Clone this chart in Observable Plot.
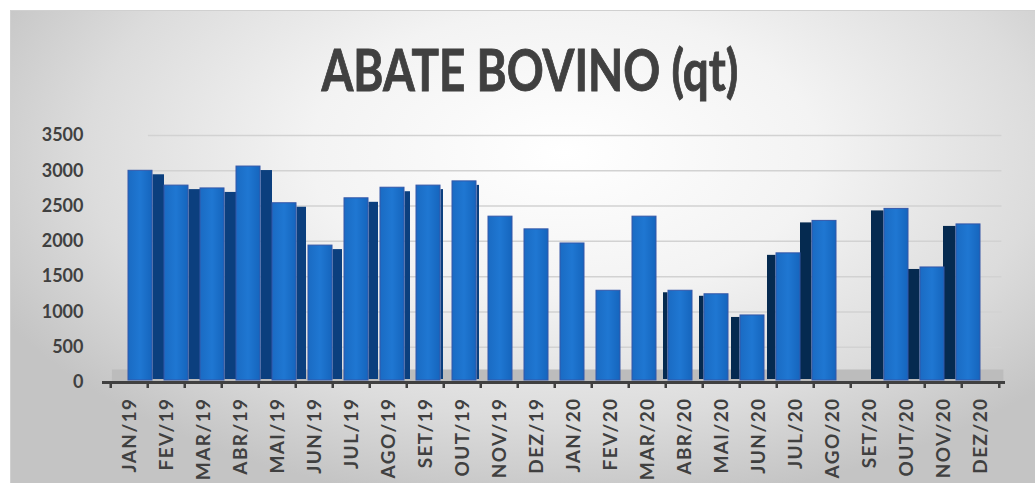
<!DOCTYPE html>
<html>
<head>
<meta charset="utf-8">
<script src="https://cdn.jsdelivr.net/npm/d3@7"></script>
<script src="https://cdn.jsdelivr.net/npm/@observablehq/plot@0.6"></script>
<style>
  html, body { margin: 0; padding: 0; background: #ffffff; }
  body { width: 1035px; height: 483px; position: relative; overflow: hidden; font-family: Lato, "Open Sans", sans-serif; }
  #panel { position: absolute; left: 10px; top: 10px; width: 1025px; height: 473px;
    background: radial-gradient(ellipse 62% 75% at 54% 30%, #ffffff 0%, #f3f3f3 40%, #dcdcdc 75%, #c4c4c4 100%);
    border-top: 1px solid #d0d0d0; border-left: 1px solid #d0d0d0; }
  #title { position: absolute; left: 0; top: 40px; width: 1060px; text-align: center;
    font-family: Lato, sans-serif; font-weight: 700; font-size: 58px; line-height: 1; color: #404040;
    -webkit-text-stroke: 0.9px #404040; }
  #title span { display: inline-block; transform: scaleX(0.79); transform-origin: center; white-space: nowrap; }
  .layer { position: absolute; left: 0; top: 0; }
  .layer svg g[aria-label="x-axis tick label"] text { letter-spacing: 1.4px; }
</style>
</head>
<body>
<div id="panel"></div>
<div id="title"><span>ABATE BOVINO (qt)</span></div>
<div id="bars" class="layer"></div>
<div id="axes" class="layer"></div>
<script>
// ---- data ----
const months = ["JAN/19","FEV/19","MAR/19","ABR/19","MAI/19","JUN/19","JUL/19","AGO/19","SET/19","OUT/19","NOV/19","DEZ/19",
                "JAN/20","FEV/20","MAR/20","ABR/20","MAI/20","JUN/20","JUL/20","AGO/20","SET/20","OUT/20","NOV/20","DEZ/20"];
const abate = [3000, 2790, 2750, 3060, 2540, 1940, 2610, 2760, 2790, 2850, 2350, 2170,
               1970, 1300, 2350, 1300, 1250, 950, 1830, 2290, null, 2460, 1630, 2240];
const yTicks = [0, 500, 1000, 1500, 2000, 2500, 3000, 3500];

const data = months.map((m, i) => ({month: m, value: abate[i], i}));
const valid = data.filter(d => d.value != null);

// ---- pseudo-3D styling (perspective: front faces are a bit compressed) ----
const W = 1035, H = 483, MT = 135, MB = 101;
const barStep = 36.23, barW = 24.5;
const barLeft = 138 - barStep / 2, barRight = W - (138 + 23 * barStep + barStep / 2);
const sideGroups = [
  {from: 0, to: 3, w: 12, side: "right", fill: "#0b3f7e"},
  {from: 4, to: 6, w: 10, side: "right", fill: "#0b3f7e"},
  {from: 7, to: 7, w: 6, side: "right", fill: "#0b3f7e"},
  {from: 8, to: 9, w: 3, side: "right", fill: "#0b3f7e"},
  {from: 15, to: 16, w: 5, side: "left", fill: "#052a50"},
  {from: 17, to: 18, w: 9, side: "left", fill: "#052a50"},
  {from: 19, to: 19, w: 12, side: "left", fill: "#052a50"},
  {from: 20, to: 23, w: 13, side: "left", fill: "#052a50"}
];
const sideMarks = sideGroups.map(g => {
  const sub = valid.filter(d => d.i >= g.from && d.i <= g.to);
  return g.side === "right"
    ? Plot.barY(sub, {x: "month", y: "value", fill: g.fill, insetLeft: barW - g.w, dx: g.w, insetTop: 4, insetBottom: 3})
    : Plot.barY(sub, {x: "month", y: "value", fill: g.fill, insetRight: barW - g.w, dx: -g.w, insetTop: 2, insetBottom: 3});
});

const common = {
  width: W, height: H, marginTop: MT, marginBottom: MB,
  style: {background: "transparent", color: "#404040", fontFamily: "Lato, sans-serif", overflow: "visible"},
  y: {domain: [0, 3500], label: null}
};

// layer 1: grid, floor and bars
const barsPlot = Plot.plot({
  ...common,
  marginLeft: barLeft, marginRight: barRight,
  x: {domain: months, paddingInner: 1 - barW / barStep, paddingOuter: (1 - barW / barStep) / 2, label: null, axis: null},
  y: {...common.y, axis: null},
  marks: [
    Plot.gridY(yTicks.slice(1), {stroke: "#d2d2d2", strokeOpacity: 1, strokeWidth: 1.5, insetLeft: 28, insetRight: -12}),
    Plot.ruleY([0], {stroke: "#bcbcbc", strokeWidth: 12, dy: -7, insetLeft: -8, insetRight: -14}),
    ...sideMarks,
    Plot.barY(valid, {x: "month", y: "value", fill: "url(#frontGrad)", stroke: "#3457a8", strokeWidth: 1, insetBottom: 2})
  ]
});
const ns = "http://www.w3.org/2000/svg";
const defs = document.createElementNS(ns, "defs");
defs.innerHTML = `<linearGradient id="frontGrad" x1="0" y1="0" x2="1" y2="0">
  <stop offset="0%" stop-color="#1a6bc3"/>
  <stop offset="50%" stop-color="#1f77d2"/>
  <stop offset="100%" stop-color="#1565bd"/>
</linearGradient>`;
barsPlot.insertBefore(defs, barsPlot.firstChild);
document.getElementById("bars").appendChild(barsPlot);

// layer 2: axes (category slots)
const slot = (W - 104 - 30) / 24;
const axesPlot = Plot.plot({
  ...common,
  marginLeft: 104, marginRight: 30,
  x: {domain: months, paddingInner: 0.33, paddingOuter: 0.165, label: null},
  marks: [
    Plot.ruleY([0], {stroke: "#404040", strokeWidth: 3, insetLeft: -2}),
    Plot.axisY(yTicks, {tickSize: 0, tickPadding: 21, fontSize: 18, fontWeight: 700, fill: "#404040", tickFormat: d => String(d)}),
    Plot.axisX({tickSize: 6, strokeWidth: 2.5, stroke: "#404040", tickFormat: () => "", dx: -slot / 2}),
    Plot.axisX([months[months.length - 1]], {tickSize: 6, strokeWidth: 2.5, stroke: "#404040", tickFormat: () => "", dx: slot / 2}),
    Plot.axisX({tickSize: 0, tickPadding: 15, tickRotate: -90, fontSize: 19, fontWeight: 700, fill: "#404040"})
  ]
});
document.getElementById("axes").appendChild(axesPlot);
</script>
</body>
</html>
